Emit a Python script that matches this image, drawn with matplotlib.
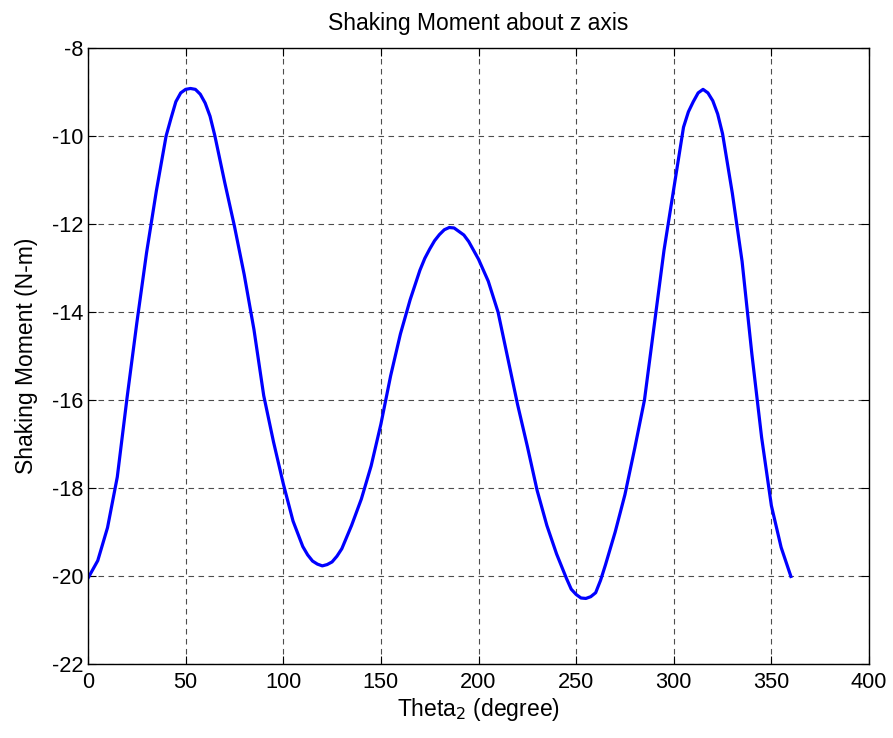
# Shaking moment about z axis vs crank angle
import numpy as np
import matplotlib
matplotlib.use("Agg")
import matplotlib.pyplot as plt

plt.rcParams['font.family'] = ['Liberation Sans', 'DejaVu Sans']
plt.rcParams['axes.unicode_minus'] = False

# crank angle (deg) and moment
theta2 = [0, 5, 10, 15, 20, 25, 30, 35, 40, 42.5, 45, 47.5, 50, 52.5, 55, 57.5, 60,
          62.5, 65, 70, 75, 80, 85, 90, 95, 100, 105, 110, 112.5, 115, 117.5, 120,
          122.5, 125, 127.5, 130, 135, 140, 145, 150, 155, 160, 165, 170, 172.5, 175,
          177.5, 180, 182.5, 185, 187.5, 190, 192.5, 195, 200, 205, 210, 215, 220,
          225, 230, 235, 240, 245, 247.5, 250, 252.5, 255, 257.5, 260, 262.5, 265,
          270, 275, 280, 285, 290, 295, 300, 305, 307.5, 310, 312.5, 315, 317.5, 320,
          322.5, 325, 330, 335, 340, 345, 350, 355, 360]
moment = [-20.05, -19.65, -18.9, -17.75, -15.95, -14.25, -12.65, -11.25, -10.0, -9.6,
          -9.22, -9.02, -8.94, -8.92, -8.94, -9.05, -9.25, -9.55, -10.0, -11.05,
          -12.05, -13.15, -14.4, -15.9, -16.95, -17.9, -18.75, -19.33, -19.52, -19.66,
          -19.73, -19.77, -19.74, -19.68, -19.55, -19.38, -18.85, -18.25, -17.5,
          -16.55, -15.45, -14.5, -13.72, -13.05, -12.78, -12.57, -12.38, -12.24,
          -12.13, -12.08, -12.09, -12.17, -12.25, -12.4, -12.8, -13.3, -14.0, -15.05,
          -16.1, -17.05, -18.05, -18.85, -19.5, -20.05, -20.3, -20.42, -20.5, -20.51,
          -20.47, -20.38, -20.1, -19.75, -19.0, -18.15, -17.1, -16.0, -14.3, -12.6,
          -11.2, -9.8, -9.45, -9.22, -9.02, -8.94, -9.02, -9.2, -9.5, -9.95, -11.3,
          -12.85, -14.95, -16.85, -18.4, -19.35, -20.01]

xticks = [0, 50, 100, 150, 200, 250, 300, 350, 400]
yticks = [-22, -20, -18, -16, -14, -12, -10, -8]

fig = plt.figure(figsize=(8.93, 7.38), dpi=100)
ax = fig.add_axes([88/893, 1 - 664/738, (869-88)/893, (664-48)/738])

ax.plot(theta2, moment, color=(0, 0, 1), linewidth=2.3)

ax.set_xlim(0, 400)
ax.set_ylim(-22, -8)
ax.set_xticks(xticks)
ax.set_yticks(yticks)
ax.grid(True, color='0.3', linestyle=(0, (5, 4)), linewidth=0.8)
ax.tick_params(direction='in', length=6, top=True, right=True, labelsize=15.7)
ax.tick_params(axis='x', pad=6)
ax.tick_params(axis='y', pad=3)
for s in ax.spines.values():
    s.set_linewidth(1.0)

ax.set_title("Shaking Moment about z axis", fontsize=16.5, pad=13)
ax.set_xlabel("Theta$_2$ (degree)", fontsize=16.5, labelpad=2)
ax.set_ylabel("Shaking Moment (N-m)", fontsize=16.5, labelpad=10)

fig.savefig("out.png", dpi=100)
